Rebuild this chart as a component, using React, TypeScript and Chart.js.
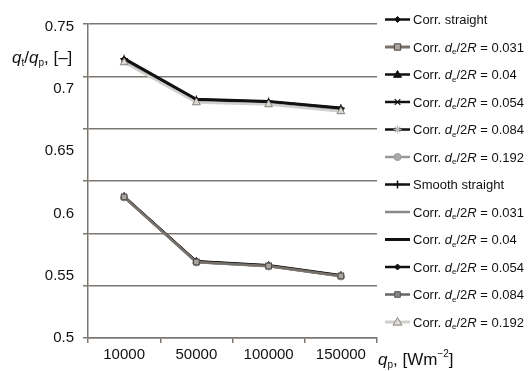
import React, { useEffect, useRef } from 'react';
import { Chart, registerables } from 'chart.js';

Chart.register(...registerables);

const categories = ['10000', '50000', '100000', '150000'];
const yTickValues = [0.5, 0.55, 0.6, 0.65, 0.7, 0.75];
const ratios = ['0.031', '0.04', '0.054', '0.084', '0.192'];

// Corrugated group (lower curves)
const corrStraight = [0.6138, 0.5618, 0.5585, 0.5505];
const corr031 = [0.6132, 0.5610, 0.5578, 0.5498];
const corr04 = [0.6136, 0.5615, 0.5582, 0.5502];
const corr054 = [0.6134, 0.5613, 0.5580, 0.5500];
const corr084 = [0.6130, 0.5608, 0.5576, 0.5496];
const corr192 = [0.6128, 0.5606, 0.5574, 0.5494];
// Smooth group (upper curves)
const smoothStraight = [0.7242, 0.6915, 0.6898, 0.6845];
const smooth031 = [0.7225, 0.6902, 0.6885, 0.6830];
const smooth04 = [0.7245, 0.6918, 0.6901, 0.6848];
const smooth054 = [0.7238, 0.6912, 0.6895, 0.6842];
const smooth084 = [0.7220, 0.6898, 0.6880, 0.6825];
const smooth192 = [0.7211, 0.6890, 0.6874, 0.6818];

type Spec = {
  data: number[];
  line: string;
  width: number;
  marker: string | null;
  fill: string;
  stroke: string;
  radius: number;
  order: number;
  label: string;
  ratio: string | null;
};

const specs: Spec[] = [
  { data: corrStraight, line: '#111111', width: 2, marker: 'rectRot', fill: '#111111', stroke: '#111111', radius: 3, order: 3, label: 'Corr. straight', ratio: null },
  { data: corr031, line: '#77716c', width: 2.5, marker: 'rect', fill: '#a9a49e', stroke: '#4a4540', radius: 4, order: 0, label: 'Corr.', ratio: ratios[0] },
  { data: corr04, line: '#111111', width: 2, marker: 'triangle', fill: '#111111', stroke: '#111111', radius: 4, order: 4, label: 'Corr.', ratio: ratios[1] },
  { data: corr054, line: '#111111', width: 2, marker: 'crossRot', fill: '#111111', stroke: '#111111', radius: 4, order: 5, label: 'Corr.', ratio: ratios[2] },
  { data: corr084, line: '#111111', width: 2, marker: 'star', fill: '#bbbbbb', stroke: '#bbbbbb', radius: 4, order: 6, label: 'Corr.', ratio: ratios[3] },
  { data: corr192, line: '#999999', width: 2, marker: 'circle', fill: '#aaaaaa', stroke: '#999999', radius: 3.5, order: 2, label: 'Corr.', ratio: ratios[4] },
  { data: smoothStraight, line: '#111111', width: 2, marker: 'cross', fill: '#111111', stroke: '#111111', radius: 4, order: 3, label: 'Smooth straight', ratio: null },
  { data: smooth031, line: '#8a8a8a', width: 2, marker: null, fill: '#8a8a8a', stroke: '#8a8a8a', radius: 0, order: 5, label: 'Corr.', ratio: ratios[0] },
  { data: smooth04, line: '#111111', width: 2.5, marker: null, fill: '#111111', stroke: '#111111', radius: 0, order: 2, label: 'Corr.', ratio: ratios[1] },
  { data: smooth054, line: '#111111', width: 2, marker: 'rectRot', fill: '#111111', stroke: '#111111', radius: 3, order: 4, label: 'Corr.', ratio: ratios[2] },
  { data: smooth084, line: '#666666', width: 2, marker: 'rect', fill: '#888888', stroke: '#555555', radius: 3.5, order: 6, label: 'Corr.', ratio: ratios[3] },
  { data: smooth192, line: '#d2d0cc', width: 2.5, marker: 'triangle', fill: '#dcdad6', stroke: '#8a8580', radius: 4.5, order: 1, label: 'Corr.', ratio: ratios[4] },
];

const FONT = '"Liberation Sans", Arial, sans-serif';
const GRID = '#7d7772';

function drawMarker(ctx: CanvasRenderingContext2D, s: Spec, x: number, y: number) {
  if (!s.marker) return;
  const r = s.radius;
  ctx.save();
  ctx.fillStyle = s.fill;
  ctx.strokeStyle = s.stroke;
  ctx.lineWidth = 1;
  ctx.beginPath();
  switch (s.marker) {
    case 'rectRot':
      ctx.moveTo(x, y - r); ctx.lineTo(x + r, y); ctx.lineTo(x, y + r); ctx.lineTo(x - r, y); ctx.closePath();
      ctx.fill(); ctx.stroke(); break;
    case 'rect':
      ctx.rect(x - r * 0.8, y - r * 0.8, r * 1.6, r * 1.6); ctx.fill(); ctx.stroke(); break;
    case 'triangle':
      ctx.moveTo(x, y - r); ctx.lineTo(x + r, y + r * 0.7); ctx.lineTo(x - r, y + r * 0.7); ctx.closePath();
      ctx.fill(); ctx.stroke(); break;
    case 'circle':
      ctx.arc(x, y, r, 0, Math.PI * 2); ctx.fill(); ctx.stroke(); break;
    case 'cross':
      ctx.lineWidth = 1.5;
      ctx.moveTo(x, y - r); ctx.lineTo(x, y + r); ctx.moveTo(x - r, y); ctx.lineTo(x + r, y); ctx.stroke(); break;
    case 'crossRot':
      ctx.lineWidth = 1.2;
      ctx.moveTo(x - r * 0.7, y - r * 0.7); ctx.lineTo(x + r * 0.7, y + r * 0.7);
      ctx.moveTo(x + r * 0.7, y - r * 0.7); ctx.lineTo(x - r * 0.7, y + r * 0.7); ctx.stroke(); break;
    case 'star':
      ctx.lineWidth = 1.2;
      ctx.moveTo(x, y - r); ctx.lineTo(x, y + r); ctx.moveTo(x - r, y); ctx.lineTo(x + r, y);
      ctx.moveTo(x - r * 0.7, y - r * 0.7); ctx.lineTo(x + r * 0.7, y + r * 0.7);
      ctx.moveTo(x + r * 0.7, y - r * 0.7); ctx.lineTo(x - r * 0.7, y + r * 0.7); ctx.stroke(); break;
  }
  ctx.restore();
}

type Seg = { t: string; st: 'n' | 'i' | 'sub' | 'sup' };

function drawRich(ctx: CanvasRenderingContext2D, segs: Seg[], x: number, y: number, size: number, color: string) {
  ctx.save();
  ctx.fillStyle = color;
  ctx.textBaseline = 'alphabetic';
  ctx.textAlign = 'left';
  let cx = x;
  for (const s of segs) {
    let fs = size;
    let dy = 0;
    let style = '';
    if (s.st === 'i') style = 'italic ';
    if (s.st === 'sub') { fs = Math.round(size * 0.6); dy = size * 0.2; }
    if (s.st === 'sup') { fs = Math.round(size * 0.6); dy = -size * 0.45; }
    ctx.font = `${style}${fs}px ${FONT}`;
    ctx.fillText(s.t, cx, y + dy);
    cx += ctx.measureText(s.t).width;
  }
  ctx.restore();
}

function legendSegs(s: Spec): Seg[] {
  if (!s.ratio) return [{ t: s.label, st: 'n' }];
  return [
    { t: s.label + ' ', st: 'n' },
    { t: 'd', st: 'i' },
    { t: 'e', st: 'sub' },
    { t: '/2', st: 'n' },
    { t: 'R', st: 'i' },
    { t: ' = ' + s.ratio, st: 'n' },
  ];
}

const extrasPlugin = {
  id: 'extras',
  afterDraw(chart: any) {
    const ctx: CanvasRenderingContext2D = chart.ctx;
    // legend
    specs.forEach((s, i) => {
      const y = 19.5 + i * 27.5;
      ctx.save();
      ctx.strokeStyle = s.line;
      ctx.lineWidth = s.width + 0.5;
      ctx.beginPath();
      ctx.moveTo(385, y);
      ctx.lineTo(410, y);
      ctx.stroke();
      ctx.restore();
      drawMarker(ctx, s, 397.5, y);
      drawRich(ctx, legendSegs(s), 413, y + 4.5, 13, '#111111');
    });
    // y title
    drawRich(ctx, [
      { t: 'q', st: 'i' }, { t: 't', st: 'sub' }, { t: '/', st: 'n' },
      { t: 'q', st: 'i' }, { t: 'p', st: 'sub' }, { t: ', [\u2013]', st: 'n' },
    ], 12, 63, 17, '#111111');
    // x title
    drawRich(ctx, [
      { t: 'q', st: 'i' }, { t: 'p', st: 'sub' }, { t: ', [Wm', st: 'n' },
      { t: '\u22122', st: 'sup' }, { t: ']', st: 'n' },
    ], 378, 365, 17, '#111111');
  },
};

export default function App() {
  const ref = useRef<HTMLCanvasElement | null>(null);
  useEffect(() => {
    if (!ref.current) return;
    const chart = new Chart(ref.current, {
      type: 'line',
      data: {
        labels: categories,
        datasets: specs.map((s, i) => ({
          label: s.label + (s.ratio ? ' ' + s.ratio : '') + ' #' + i,
          data: s.data,
          borderColor: s.line,
          borderWidth: s.width,
          backgroundColor: s.fill,
          pointStyle: (s.marker || 'circle') as any,
          pointRadius: s.marker ? s.radius : 0,
          pointBackgroundColor: s.fill,
          pointBorderColor: s.stroke,
          pointBorderWidth: 1,
          order: s.order,
          tension: 0,
          fill: false,
          yAxisID: 'y',
        })),
      },
      options: {
        animation: false,
        responsive: true,
        maintainAspectRatio: false,
        layout: { padding: { left: 0, right: 152, top: 24, bottom: 0 } },
        plugins: { legend: { display: false }, tooltip: { enabled: false }, title: { display: false } },
        scales: {
          x: {
            type: 'category',
            offset: true,
            grid: { display: true, drawOnChartArea: false, drawTicks: true, tickLength: 5, offset: true, color: GRID, lineWidth: 1.5 },
            border: { display: true, color: GRID, width: 1.5 },
            ticks: { color: '#111111', font: { size: 15, family: FONT }, padding: 3, maxRotation: 0, autoSkip: false },
            afterFit: (sc: any) => { sc.height = 33; },
          },
          y: {
            type: 'linear',
            position: 'left',
            weight: 1,
            min: 0.5,
            max: 0.752,
            afterBuildTicks: (sc: any) => { sc.ticks = yTickValues.map((v) => ({ value: v })); },
            ticks: {
              color: '#111111',
              font: { size: 15, family: FONT },
              padding: 6,
              callback: (v: any) => String(Number(v)),
            },
            grid: { display: false },
            border: { display: false },
            afterFit: (sc: any) => { sc.width = 88; },
          },
          grid6: {
            type: 'linear',
            position: 'left',
            weight: 0,
            min: 0,
            max: 6,
            ticks: { display: false, stepSize: 1 },
            grid: { display: true, color: GRID, lineWidth: 1.5, drawTicks: true, tickLength: 5 },
            border: { display: true, color: GRID, width: 1.5 },
            afterFit: (sc: any) => { sc.width = 0; },
          },
        },
      } as any,
      plugins: [extrasPlugin],
    });
    return () => chart.destroy();
  }, []);
  return (
    <div style={{ position: 'fixed', left: 0, top: 0, width: '529px', height: '371px', background: '#ffffff' }}>
      <canvas ref={ref} />
    </div>
  );
}
